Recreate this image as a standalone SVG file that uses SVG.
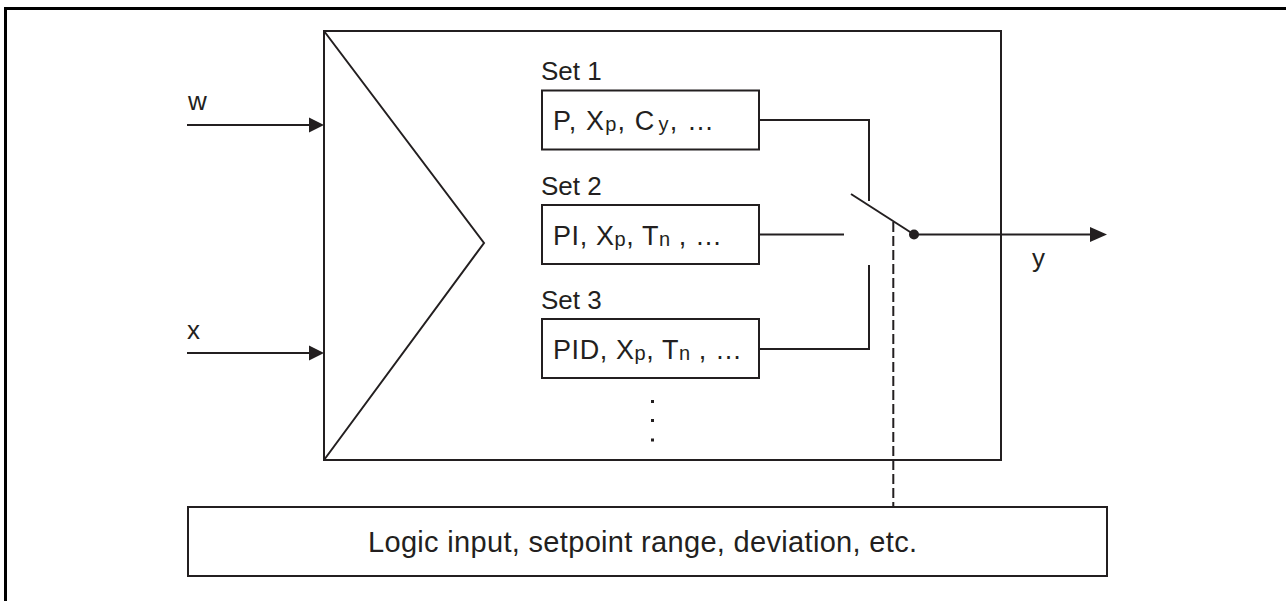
<svg xmlns="http://www.w3.org/2000/svg" width="1286" height="601" viewBox="0 0 1286 601">
<style>
  .ln{fill:none;stroke:#231f20;stroke-width:2}
  .bx{fill:#fff;stroke:#231f20;stroke-width:2}
  .t{font-family:"Liberation Sans",Arial,Helvetica,sans-serif;font-size:26px;fill:#231f20}
  .b{font-size:27px}
  .s{font-size:20px}
  .lg{font-size:29px}
  .ah{fill:#231f20}
</style>
<rect width="1286" height="601" fill="#fff"/>
<rect x="5.5" y="8.5" width="1400" height="700" fill="none" stroke="#000" stroke-width="3"/>

<g id="controller">
  <rect class="bx" x="324" y="31" width="677" height="429"/>
  <polyline class="ln" points="324,31 484,243 324,460"/>
</g>

<g id="set1">
  <text class="t" x="541" y="80">Set 1</text>
  <rect class="bx" x="542" y="90.5" width="217" height="59"/>
  <text class="t b" x="553" y="129.5" textLength="161" lengthAdjust="spacing">P, X<tspan class="s" dy="1.5">p</tspan><tspan dy="-1.5">, C</tspan><tspan class="s" dx="3" dy="1.5">y</tspan><tspan dy="-1.5">, …</tspan></text>
</g>
<g id="set2">
  <text class="t" x="541" y="195">Set 2</text>
  <rect class="bx" x="542" y="205" width="217" height="59"/>
  <text class="t b" x="553" y="244.5" textLength="169" lengthAdjust="spacing">PI, X<tspan class="s" dy="1.5">p</tspan><tspan dy="-1.5">, T</tspan><tspan class="s" dy="1.5">n</tspan><tspan dy="-1.5"> , …</tspan></text>
</g>
<g id="set3">
  <text class="t" x="541" y="309">Set 3</text>
  <rect class="bx" x="542" y="319" width="217" height="59"/>
  <text class="t b" x="553" y="358.5" textLength="189" lengthAdjust="spacing">PID, X<tspan class="s" dy="1.5">p</tspan><tspan dy="-1.5">, T</tspan><tspan class="s" dy="1.5">n</tspan><tspan dy="-1.5"> , …</tspan></text>
</g>
<g id="more">
  <rect class="ah" x="651" y="400" width="3" height="3"/>
  <rect class="ah" x="651" y="419" width="3" height="3"/>
  <rect class="ah" x="651" y="438.5" width="3" height="3"/>
</g>

<g id="logic">
  <rect class="bx" x="188" y="507" width="919" height="69"/>
  <text class="t lg" x="368" y="552" textLength="549" lengthAdjust="spacing">Logic input, setpoint range, deviation, etc.</text>
</g>

<g id="labels">
  <text class="t" x="188" y="110">w</text>
  <text class="t" x="187" y="339">x</text>
  <text class="t" x="1032" y="267">y</text>
</g>

<g id="connectors">
  <line class="ln" x1="187" y1="125" x2="312" y2="125"/>
  <polygon class="ah" points="324,125 309,117.5 309,132.5"/>
  <line class="ln" x1="187" y1="353" x2="312" y2="353"/>
  <polygon class="ah" points="324,353 309,345.5 309,360.5"/>
  <polyline class="ln" points="759,120 869,120 869,201"/>
  <line class="ln" x1="759" y1="234.5" x2="844" y2="234.5"/>
  <polyline class="ln" points="759,349 869,349 869,265"/>
  <line class="ln" x1="851" y1="194" x2="914" y2="234.5"/>
  <circle class="ah" cx="914" cy="234.5" r="5"/>
  <line class="ln" x1="914" y1="234.5" x2="1095" y2="234.5"/>
  <polygon class="ah" points="1107,234.5 1090,227 1090,242"/>
  <line class="ln" x1="893.3" y1="222" x2="893.3" y2="507" stroke-dasharray="10 4"/>
</g>
</svg>
